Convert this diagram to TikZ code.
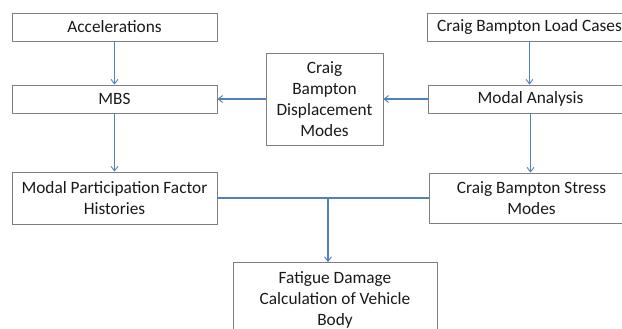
\documentclass[tikz,border=0pt]{standalone}
\usepackage{fontspec}
\setmainfont{Carlito}
\usetikzlibrary{arrows.meta}
\definecolor{boxline}{HTML}{7F7F7F}
\definecolor{arrowblue}{HTML}{4F81BD}
\definecolor{txt}{HTML}{1A1A1A}
\tikzset{
  box/.style={draw=boxline, line width=0.9pt, fill=white, text=txt, align=center, inner sep=0pt,
    font=\fontsize{17.3}{21}\selectfont},
  conn/.style={draw=arrowblue, line width=1.1pt},
  arr/.style={conn, -{Straight Barb[length=4.5pt,width=7pt,line width=0.9pt]}}
}
\begin{document}
\begin{tikzpicture}[x=1pt,y=1pt]
\clip (0,0) rectangle (622,329);
\fill[white] (0,0) rectangle (622,329);
% boxes (y = 329 - pixel row)
\node[box, minimum width=205pt, minimum height=28pt] (acc) at (114.5,302) {Accelerations};
\node[box, minimum width=205pt, minimum height=28pt] (mbs) at (114.5,230) {MBS};
\node[box, minimum width=205pt, minimum height=52pt] (mpf) at (114.5,131) {Modal Participation Factor\\Histories};
\node[box, minimum width=117pt, minimum height=92pt] (cbdm) at (324.5,230) {Craig\\Bampton\\Displacement\\Modes};
\node[box, minimum width=205pt, minimum height=28pt] (load) at (529.5,302) {Craig Bampton Load Cases};
\node[box, minimum width=205pt, minimum height=28pt] (modal) at (530.5,230) {Modal Analysis};
\node[box, minimum width=205pt, minimum height=50pt] (stress) at (531.5,131) {Craig Bampton Stress\\Modes};
\node[box, minimum width=204pt, minimum height=74pt, anchor=north] (fat) at (335,67) {Fatigue Damage\\Calculation of Vehicle\\Body};
% connectors
\draw[arr] (acc.south) -- (mbs.north);
\draw[arr] (mbs.south) -- (mpf.north);
\draw[arr] (load.south) -- (load.south |- modal.north);
\draw[arr] (modal.south) -- (modal.south |- stress.north);
\draw[arr] (modal.west) -- (cbdm.east |- modal.west);
\draw[arr] (cbdm.west) -- (mbs.east |- cbdm.west);
\draw[conn] (mpf.east) -- (stress.west |- mpf.east);
\coordinate (br) at (328,131);
\draw[arr] (br) -- (br |- fat.north);
\end{tikzpicture}
\end{document}
